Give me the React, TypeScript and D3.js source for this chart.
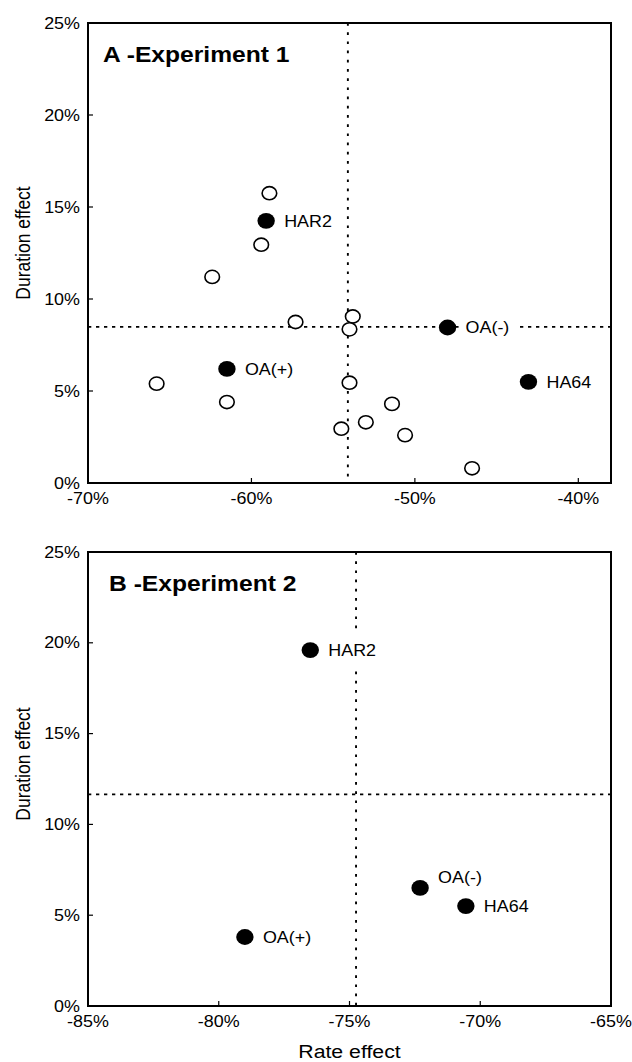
import React, { useEffect, useRef } from 'react';
import * as d3 from 'd3';

// Experiment 1 (panel A) - open circles, unlabeled
const expA_openRate = [-58.9, -59.4, -62.4, -57.3, -53.8, -54.0, -65.8, -61.5, -54.0, -51.4, -53.0, -54.5, -50.6, -46.5];
const expA_openDuration = [15.75, 12.95, 11.2, 8.75, 9.05, 8.35, 5.4, 4.4, 5.45, 4.3, 3.3, 2.95, 2.6, 0.8];

// Experiment 1 - filled, labelled points
const expA_labels = ['HAR2', 'OA(+)', 'OA(-)', 'HA64'];
const expA_rate = [-59.1, -61.5, -48.0, -43.05];
const expA_duration = [14.25, 6.2, 8.45, 5.5];
const expA_refRate = -54.1;
const expA_refDuration = 8.48;

// Experiment 2 (panel B)
const expB_labels = ['HAR2', 'OA(+)', 'OA(-)', 'HA64'];
const expB_rate = [-76.5, -79.0, -72.3, -70.55];
const expB_duration = [19.6, 3.8, 6.5, 5.5];
const expB_refRate = -74.75;
const expB_refDuration = 11.65;

const expA_xTicks = [-70, -60, -50, -40];
const expB_xTicks = [-85, -80, -75, -70, -65];
const yTicks = [0, 5, 10, 15, 20, 25];

const FONT = '"Liberation Sans", Arial, Helvetica, sans-serif';
const SX = 1.12; // the original figure is a bit stretched horizontally

const App = () => {
  const svgRef = useRef(null);

  useEffect(() => {
    document.body.style.margin = '0';
    const svg = d3.select(svgRef.current);
    svg.selectAll('*').remove();

    const left = 88;
    const right = 611;

    const text = (parent, x, y, str, size, anchor, weight = 'normal') =>
      parent.append('text')
        .attr('transform', `translate(${x},${y}) scale(${SX},1)`)
        .attr('text-anchor', anchor)
        .attr('font-family', FONT)
        .attr('font-size', size)
        .attr('font-weight', weight)
        .attr('fill', '#000')
        .text(str);

    const drawPanel = (cfg) => {
      const g = svg.append('g');
      const x = d3.scaleLinear().domain(cfg.xDomain).range([left, right]);
      const y = d3.scaleLinear().domain([0, 25]).range([cfg.bottom, cfg.top]);

      // reference lines (dotted)
      g.append('line')
        .attr('x1', left).attr('x2', right)
        .attr('y1', y(cfg.refDuration)).attr('y2', y(cfg.refDuration))
        .attr('stroke', '#000').attr('stroke-width', 1.7)
        .attr('stroke-dasharray', '3.3,4.7');
      g.append('line')
        .attr('x1', x(cfg.refRate)).attr('x2', x(cfg.refRate))
        .attr('y1', cfg.top).attr('y2', cfg.bottom)
        .attr('stroke', '#000').attr('stroke-width', 1.9)
        .attr('stroke-dasharray', '2.7,6.5');

      // frame
      g.append('rect')
        .attr('x', left).attr('y', cfg.top)
        .attr('width', right - left).attr('height', cfg.bottom - cfg.top)
        .attr('fill', 'none').attr('stroke', '#000').attr('stroke-width', 2);

      // ticks, pointing inward
      cfg.xTicks.forEach(t => {
        g.append('line')
          .attr('x1', x(t)).attr('x2', x(t))
          .attr('y1', cfg.bottom).attr('y2', cfg.bottom - 5)
          .attr('stroke', '#000').attr('stroke-width', 1.2);
        text(g, x(t), cfg.bottom + 20.5, `${t}%`, 16, 'middle');
      });
      yTicks.forEach(t => {
        g.append('line')
          .attr('x1', left).attr('x2', left + 5)
          .attr('y1', y(t)).attr('y2', y(t))
          .attr('stroke', '#000').attr('stroke-width', 1.2);
        text(g, left - 8, y(t) + 5.5, `${t}%`, 16, 'end');
      });

      // panel title
      text(g, cfg.titleX, cfg.top + 39, cfg.title, 22, 'start', 'bold');

      // y axis title
      g.append('text')
        .attr('transform', `translate(30,${cfg.yTitleY}) rotate(-90) scale(1,${SX})`)
        .attr('text-anchor', 'middle')
        .attr('font-family', FONT)
        .attr('font-size', 17.5)
        .text('Duration effect');

      // labels with white boxes (they break the dotted lines)
      cfg.labels.forEach((lab, i) => {
        const off = cfg.labelOffset[lab] || [18, 0];
        const lg = g.append('g')
          .attr('transform', `translate(${x(cfg.rate[i]) + off[0]},${y(cfg.duration[i]) + off[1]}) scale(${SX},1)`);
        const rect = lg.append('rect').attr('fill', '#fff');
        const t = lg.append('text')
          .attr('x', 0).attr('y', 5.7)
          .attr('font-family', FONT)
          .attr('font-size', 16)
          .text(lab);
        const w = t.node().getComputedTextLength();
        rect.attr('x', -7 / SX).attr('y', -18).attr('width', w + 14 / SX).attr('height', 36);
      });

      // open circles
      (cfg.openRate || []).forEach((r, i) => {
        g.append('ellipse')
          .attr('cx', x(r)).attr('cy', y(cfg.openDuration[i]))
          .attr('rx', 7.3).attr('ry', 6.6)
          .attr('fill', '#fff').attr('stroke', '#000').attr('stroke-width', 1.6);
      });

      // filled circles
      cfg.rate.forEach((r, i) => {
        g.append('ellipse')
          .attr('cx', x(r)).attr('cy', y(cfg.duration[i]))
          .attr('rx', 8.7).attr('ry', 7.9)
          .attr('fill', '#000');
      });
    };

    drawPanel({
      top: 23, bottom: 483, xDomain: [-70, -38], xTicks: expA_xTicks,
      title: 'A -Experiment 1', titleX: 103, yTitleY: 243,
      refRate: expA_refRate, refDuration: expA_refDuration,
      openRate: expA_openRate, openDuration: expA_openDuration,
      labels: expA_labels, rate: expA_rate, duration: expA_duration,
      labelOffset: {},
    });

    drawPanel({
      top: 552, bottom: 1006, xDomain: [-85, -65], xTicks: expB_xTicks,
      title: 'B -Experiment 2', titleX: 109, yTitleY: 764,
      refRate: expB_refRate, refDuration: expB_refDuration,
      labels: expB_labels, rate: expB_rate, duration: expB_duration,
      labelOffset: { 'OA(-)': [18, -11] },
    });

    text(svg, (left + right) / 2, 1058, 'Rate effect', 19, 'middle');
  }, []);

  return (
    <svg ref={svgRef} width={632} height={1062}
      style={{ position: 'absolute', left: 0, top: 0, background: '#fff' }} />
  );
};

export default App;
